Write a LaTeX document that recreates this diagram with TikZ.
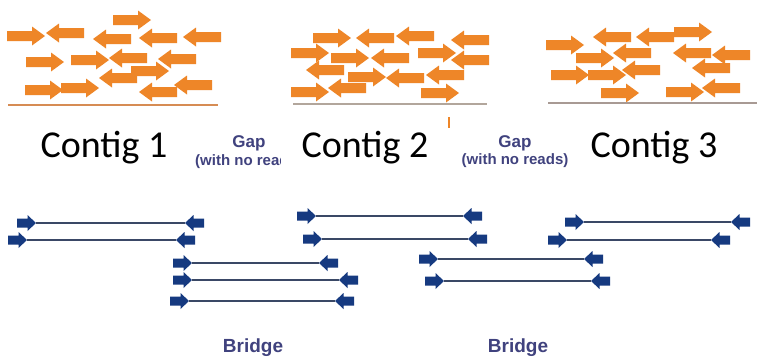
\documentclass[tikz,border=0pt]{standalone}
\usepackage{fontspec}
\setmainfont{Carlito}
\newfontfamily\labelfont{Liberation Sans}
\definecolor{readorange}{RGB}{238,134,40}
\definecolor{readblue}{RGB}{22,58,128}
\definecolor{linkgray}{RGB}{58,72,102}
\definecolor{gaptext}{RGB}{64,66,126}
\definecolor{baseA}{RGB}{214,140,84}
\definecolor{baseB}{RGB}{178,166,156}
\definecolor{baseC}{RGB}{168,154,148}

\tikzset{
  % orange reads, centred on their midpoint
  oR/.pic={\fill[readorange] (-19,-5) -- (6,-5) -- (6,-9.5) -- (19,0) -- (6,9.5) -- (6,5) -- (-19,5) -- cycle;},
  oL/.pic={\fill[readorange] (19,-5) -- (-6,-5) -- (-6,-9.5) -- (-19,0) -- (-6,9.5) -- (-6,5) -- (19,5) -- cycle;},
  % blue mate-pair heads, tip at the origin
  bR/.pic={\fill[readblue] (-19,-4.5) -- (-8.5,-4.5) -- (-8.5,-8) -- (0,0) -- (-8.5,8) -- (-8.5,4.5) -- (-19,4.5) -- cycle;},
  bL/.pic={\fill[readblue] (19,-4.5) -- (8.5,-4.5) -- (8.5,-8) -- (0,0) -- (8.5,8) -- (8.5,4.5) -- (19,4.5) -- cycle;},
  linkline/.style={draw=linkgray, line width=1.8bp},
  contig/.style={font=\fontsize{38bp}{40bp}\selectfont, inner sep=0pt, anchor=base},
  gapword/.style={text=gaptext, font=\labelfont\bfseries\fontsize{17bp}{18bp}\selectfont, inner sep=0pt, anchor=base},
  gapnote/.style={text=gaptext, font=\labelfont\bfseries\fontsize{15bp}{16bp}\selectfont, inner sep=0pt},
  bridgeword/.style={text=gaptext, font=\labelfont\bfseries\fontsize{19bp}{20bp}\selectfont, inner sep=0pt, anchor=base},
}

% a mate pair: tail of the right head, tail of the left head, height
\newcommand\matepair[4]{%
  \coordinate (#1-s) at ({#2+19},#4);
  \coordinate (#1-e) at ({#3-19},#4);
  \draw[linkline] (#1-s) -- (#1-e);
  \pic at (#1-s) {bR};
  \pic at (#1-e) {bL};
}

\begin{document}
\begin{tikzpicture}[x=1bp, y=-1bp]
\useasboundingbox[fill=white] (0,0) rectangle (757,361);

% ---- contig 1 reads
\foreach \x/\y in {132/20, 26/36, 45/62, 90/60, 150/71, 44/90, 80/88}
  \pic at (\x,\y) {oR};
\foreach \x/\y in {65/33, 112/39, 158/38, 202/37, 128/58, 177/59, 118/78, 158/92, 193/85}
  \pic at (\x,\y) {oL};
\draw[baseA, line width=1.5bp] (8,105) -- (218,105);

% ---- contig 2 reads
\foreach \x/\y in {332/38, 310/53, 350/58, 437/53, 367/77, 310/92, 440/93}
  \pic at (\x,\y) {oR};
\foreach \x/\y in {375/38, 415/36, 470/40, 390/58, 470/60, 325/70, 405/78, 445/75, 347/88}
  \pic at (\x,\y) {oL};
\draw[baseB, line width=1.5bp] (293,104) -- (487,104);

% ---- contig 3 reads
\foreach \x/\y in {565/45, 693/32, 595/58, 570/75, 607/75, 620/93, 685/92}
  \pic at (\x,\y) {oR};
\foreach \x/\y in {612/37, 655/37, 632/53, 692/53, 731/55, 641/70, 711/68, 721/88}
  \pic at (\x,\y) {oL};
\draw[baseC, line width=1.5bp] (548,103) -- (757,103);

\draw[readorange, line width=1.5bp] (449,117) -- (449,128);

% ---- gap labels
\node[gapword] (gap1) at (249,147) {Gap};
\node[gapnote, anchor=base west] (gap1n) at (195,165) {(with no reads)};
\node[gapword] (gap2) at (515,147) {Gap};
\node[gapnote, anchor=base] (gap2n) at (515,164) {(with no reads)};

% ---- contig labels (the second one sits on a white panel)
\fill[white] (281,120) rectangle (440,185);
\node[contig] (c1) at (104,157) {Contig 1};
\node[contig] (c2) at (365,157) {Contig 2};
\node[contig] (c3) at (654,157) {Contig 3};

% ---- mate pairs
\matepair{pa}{17}{204}{223}
\matepair{pb}{8}{195}{240}
\matepair{pc}{173}{338}{263}
\matepair{pd}{173}{358}{280}
\matepair{pe}{170}{354}{301}
\matepair{pf}{297}{482}{216}
\matepair{pg}{303}{487}{239}
\matepair{ph}{419}{603}{259}
\matepair{pi}{425}{610}{281}
\matepair{pj}{565}{750}{222}
\matepair{pk}{548}{730}{240}

% ---- bridge labels
\node[bridgeword] (br1) at (253,352) {Bridge};
\node[bridgeword] (br2) at (518,352) {Bridge};
\end{tikzpicture}
\end{document}
